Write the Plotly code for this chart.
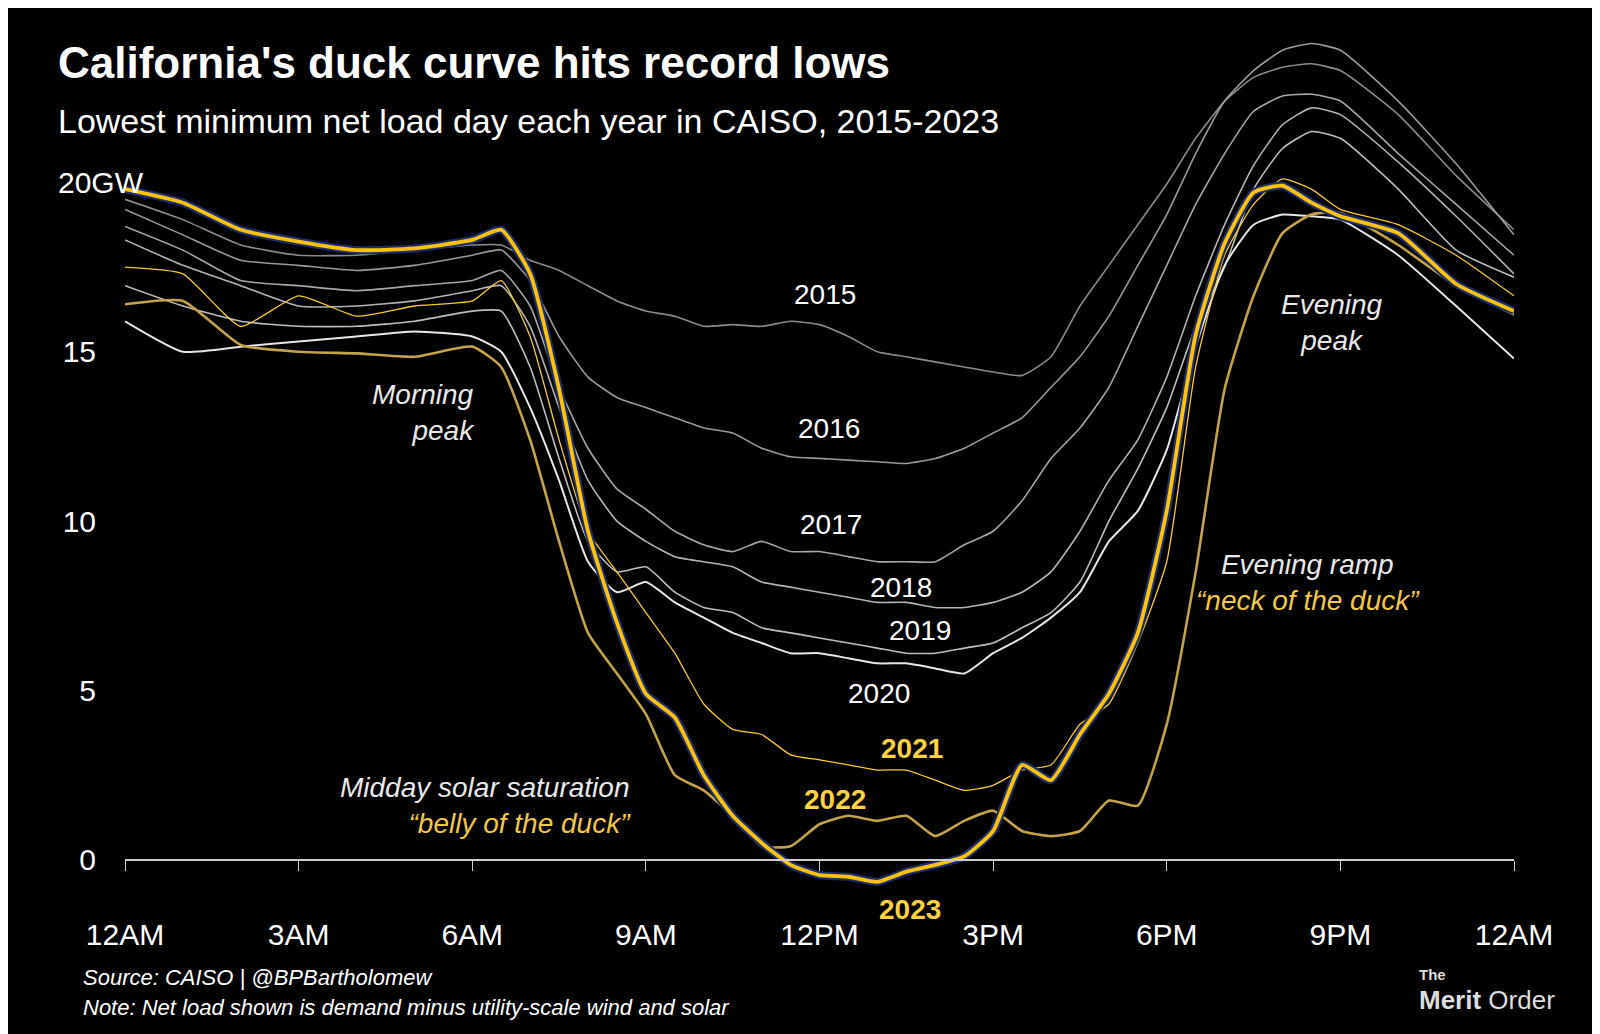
import plotly.graph_objects as go

# hours of the day (0 = 12AM, 24 = next 12AM)
hours = [0, 1, 2, 3, 4, 5, 6] + [6.5 + 0.5 * i for i in range(30)] + [22, 23, 24]

# net load, GW
y2015 = [19.5, 18.9, 18.15, 17.85, 17.85, 18.0, 18.15,
         18.15, 17.7, 17.4, 16.95, 16.5, 16.2, 16.05, 15.75, 15.8, 15.75,
         15.9, 15.8, 15.45, 15.0, 14.85, 14.7, 14.55, 14.4, 14.3, 14.85,
         16.35, 17.55, 18.75, 19.95, 21.3, 22.4, 23.1, 23.4, 23.5, 23.3,
         22.0, 20.2, 18.6]
y2016 = [19.2, 18.45, 17.7, 17.55, 17.4, 17.55, 17.85,
         18.0, 17.1, 15.45, 14.25, 13.65, 13.35, 13.05, 12.75, 12.6, 12.15,
         11.9, 11.85, 11.8, 11.75, 11.7, 11.85, 12.15, 12.6, 13.05, 13.95,
         14.85, 16.05, 17.55, 19.05, 20.85, 22.4, 23.3, 23.9, 24.1, 23.9,
         22.4, 20.55, 18.45]
y2017 = [18.7, 18.0, 17.1, 16.95, 16.8, 16.95, 17.1,
         17.4, 16.35, 13.95, 12.15, 10.95, 10.35, 9.7, 9.3, 9.1, 9.4,
         9.1, 9.1, 8.95, 8.8, 8.8, 8.8, 9.3, 9.7, 10.6, 11.85,
         12.75, 13.95, 15.75, 17.55, 19.35, 20.85, 22.1, 22.55, 22.6, 22.4,
         20.85, 19.35, 17.85]
y2018 = [18.3, 17.55, 16.95, 16.35, 16.35, 16.5, 16.8,
         16.95, 15.75, 13.35, 11.2, 10.0, 9.4, 8.95, 8.8, 8.65, 8.2,
         8.05, 7.9, 7.75, 7.6, 7.6, 7.45, 7.45, 7.6, 7.9, 8.5,
         9.7, 11.2, 12.4, 14.25, 16.65, 18.75, 20.5, 21.7, 22.2, 22.0,
         20.6, 19.0, 17.3]
y2019 = [16.95, 16.35, 15.9, 15.75, 15.75, 15.9, 16.2,
         16.2, 14.55, 11.85, 9.4, 8.5, 8.65, 7.9, 7.45, 7.3, 6.85,
         6.7, 6.55, 6.4, 6.25, 6.1, 6.1, 6.25, 6.4, 6.85, 7.3,
         8.2, 10.0, 11.55, 13.35, 15.75, 17.5, 19.8, 21.0, 21.5, 21.3,
         19.8, 18.0, 17.2]
y2020 = [15.9, 15.0, 15.15, 15.3, 15.45, 15.6, 15.45,
         15.0, 13.35, 11.2, 8.8, 7.9, 8.2, 7.6, 7.15, 6.7, 6.4,
         6.1, 6.1, 5.95, 5.8, 5.8, 5.65, 5.5, 6.1, 6.55, 7.15,
         7.9, 9.4, 10.3, 12.1, 15.15, 17.55, 18.75, 19.05, 19.0, 18.9,
         17.85, 16.35, 14.8]
y2021 = [17.5, 17.3, 15.75, 16.65, 16.05, 16.35, 16.5,
         17.1, 15.45, 12.4, 9.7, 8.5, 7.3, 6.1, 4.6, 3.85, 3.7,
         3.1, 2.95, 2.8, 2.65, 2.65, 2.35, 2.05, 2.2, 2.65, 2.8,
         4.0, 4.6, 6.4, 8.8, 14.55, 17.85, 19.35, 20.1, 19.8, 19.2,
         18.75, 17.85, 16.65]
y2022 = [16.4, 16.5, 15.2, 15.0, 14.95, 14.85, 15.15,
         14.55, 12.4, 9.4, 6.7, 5.5, 4.3, 2.5, 2.05, 1.3, 0.4,
         0.4, 1.05, 1.3, 1.15, 1.3, 0.7, 1.15, 1.45, 0.85, 0.7,
         0.85, 1.75, 1.6, 4.0, 8.5, 13.9, 16.65, 18.5, 19.05, 19.1,
         18.15, 16.95, 16.1]
y2023 = [19.8, 19.4, 18.6, 18.25, 18.0, 18.05, 18.3,
         18.6, 17.3, 13.9, 9.7, 7.0, 4.9, 4.2, 2.5, 1.3, 0.5,
         -0.15, -0.45, -0.5, -0.65, -0.35, -0.15, 0.1, 0.85, 2.8, 2.35,
         3.7, 4.9, 6.7, 10.3, 15.5, 18.2, 19.7, 19.9, 19.4, 19.0,
         18.5, 17.0, 16.2]

x_tick_vals = [0, 3, 6, 9, 12, 15, 18, 21, 24]
x_tick_text = ["12AM", "3AM", "6AM", "9AM", "12PM", "3PM", "6PM", "9PM", "12AM"]
y_tick_vals = [0, 5, 10, 15]

# year labels: (text, hour, GW, colour, bold)
year_labels = [
    ("2015", 12.1, 16.7, "white", False),
    ("2016", 12.17, 12.74, "white", False),
    ("2017", 12.2, 9.9, "white", False),
    ("2018", 13.4, 8.04, "white", False),
    ("2019", 13.74, 6.78, "white", False),
    ("2020", 13.03, 4.9, "white", False),
    ("2021", 13.6, 3.28, "#FFD23F", True),
    ("2022", 12.26, 1.78, "#FFD23F", True),
    ("2023", 13.56, -1.48, "#FFD23F", True),
]

FONT = "Liberation Sans, Arial, sans-serif"
YMIN, YMAX = -1.6, 25
GOLD = "#FFC20E"
OFF, S = 8, 0.98  # page offset and scale seen in the screenshot


def fp(ref):
    # reference pixel -> figure pixel
    return (ref - OFF) / S


W, H = round(fp(1600 - OFF)), round(fp(1034 - OFF))
PL, PR, PT, PB = fp(123), fp(1484), fp(13), fp(896)

fig = go.Figure()

greys = [("2015", y2015, "#8a8a8a"), ("2016", y2016, "#999999"),
         ("2017", y2017, "#a6a6a6"), ("2018", y2018, "#b3b3b3"),
         ("2019", y2019, "#bdbdbd")]
for name, ys, col in greys:
    fig.add_trace(go.Scatter(x=hours, y=ys, mode="lines", name=name,
                             line=dict(color=col, width=1.6, shape="spline", smoothing=0.5)))

fig.add_trace(go.Scatter(x=hours, y=y2020, mode="lines", name="2020",
                         line=dict(color="#e6e6e6", width=2, shape="spline", smoothing=0.5)))
fig.add_trace(go.Scatter(x=hours, y=y2021, mode="lines", name="2021",
                         line=dict(color="#F7C933", width=1.3, shape="spline", smoothing=0.5)))
fig.add_trace(go.Scatter(x=hours, y=y2022, mode="lines", name="2022",
                         line=dict(color="#C4A24A", width=2.6, shape="spline", smoothing=0.5)))
# 2023: navy outline under gold line
fig.add_trace(go.Scatter(x=hours, y=y2023, mode="lines", name="2023 outline",
                         line=dict(color="#1d2f6b", width=8, shape="spline", smoothing=0.5)))
fig.add_trace(go.Scatter(x=hours, y=y2023, mode="lines", name="2023",
                         line=dict(color=GOLD, width=3.8, shape="spline", smoothing=0.5)))

for text, hx, gy, col, bold in year_labels:
    fig.add_annotation(x=hx, y=gy, text=f"<b>{text}</b>" if bold else text,
                       showarrow=False, font=dict(size=28, color=col, family=FONT))

ital = dict(size=28, color="#e8e8e8", family=FONT)
fig.add_annotation(x=6.08, y=13.2, text="<i>Morning<br>peak</i>", align="right",
                   xanchor="right", showarrow=False, font=ital)
fig.add_annotation(x=20.86, y=15.87, text="<i>Evening<br>peak</i>", align="center",
                   showarrow=False, font=ital)
fig.add_annotation(x=20.44, y=8.2,
                   text="<i>Evening ramp<br><span style='color:#F2C744'>“neck of the duck”</span></i>",
                   align="center", showarrow=False, font=ital)
fig.add_annotation(x=8.77, y=1.6,
                   text="<i>Midday solar saturation<br><span style='color:#F2C744'>“belly of the duck”</span></i>",
                   align="right", xanchor="right", showarrow=False, font=ital)


# titles and notes (paper coords from reference pixels)
def py(px):
    return (PB - fp(px)) / (PB - PT)


def pxx(px):
    return (fp(px) - PL) / (PR - PL)


def note(text, x, y, size, color="white"):
    fig.add_annotation(x=pxx(x), y=py(y), xref="paper", yref="paper",
                       xanchor="left", yanchor="middle", text=text, showarrow=False,
                       font=dict(size=size, color=color, family=FONT))


fig.add_annotation(x=pxx(55), y=20, xref="paper", text="20GW", xanchor="left",
                   yanchor="middle", showarrow=False,
                   font=dict(size=30, color="white", family=FONT))
note("<b>California's duck curve hits record lows</b>", 55, 62, 44)
note("Lowest minimum net load day each year in CAISO, 2015-2023", 55, 119, 34)
note("<i>Source: CAISO | @BPBartholomew</i>", 80, 958, 22)
note("<i>Note: Net load shown is demand minus utility-scale wind and solar</i>", 80, 988, 22)
note("<b>The</b>", 1389, 955, 15, "#dddddd")
note("<b>Merit</b> Order", 1389, 980, 26, "#dddddd")

zero_pos = (0 - YMIN) / (YMAX - YMIN)

fig.update_layout(
    width=W, height=H,
    paper_bgcolor="black", plot_bgcolor="black",
    margin=dict(l=PL, r=W - PR, t=PT, b=H - PB, pad=0),
    showlegend=False,
    font=dict(family=FONT, color="white"),
    xaxis=dict(range=[0, 24], tickvals=x_tick_vals, showticklabels=False,
               showgrid=False, zeroline=False, showline=True, linecolor="#cccccc",
               linewidth=1.5, ticks="outside", ticklen=10, tickcolor="#cccccc",
               anchor="free", position=zero_pos),
    xaxis2=dict(range=[0, 24], overlaying="x", matches="x", side="bottom",
                tickvals=x_tick_vals, ticktext=x_tick_text, showgrid=False,
                zeroline=False, showline=False, ticks="", anchor="y",
                tickfont=dict(size=30, color="white")),
    yaxis=dict(range=[YMIN, YMAX], tickvals=y_tick_vals, showgrid=False,
               zeroline=False, showline=False, ticks="", ticklabelstandoff=28,
               tickfont=dict(size=30, color="white")),
)
# dummy trace to show xaxis2
fig.add_trace(go.Scatter(x=[0], y=[None], xaxis="x2", showlegend=False, hoverinfo="skip"))

fig.write_html("out.html")
